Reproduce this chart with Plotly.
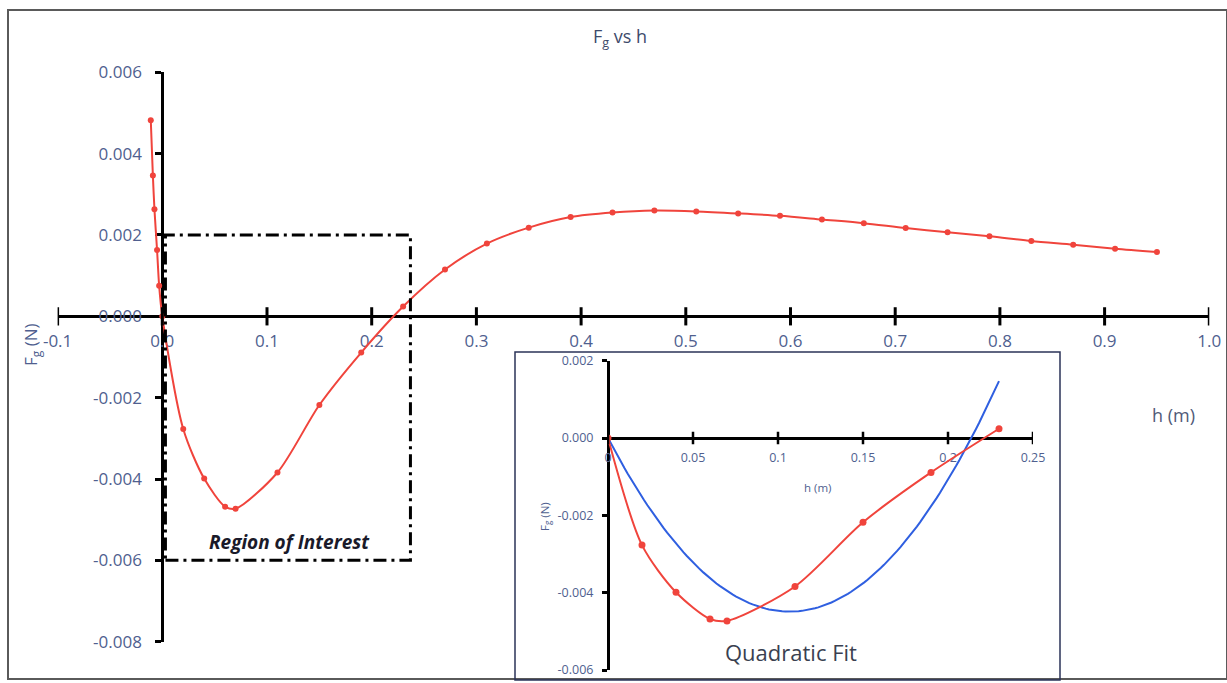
import numpy as np
import plotly.graph_objects as go

# Measured gravitational force F_g (N) against separation h (m)
h_vals = [-0.011, -0.009, -0.0075, -0.005, -0.003, 0.0,
          0.02, 0.04, 0.06, 0.07, 0.11, 0.15, 0.19, 0.23,
          0.27, 0.31, 0.35, 0.39, 0.43, 0.47, 0.51, 0.55, 0.59,
          0.63, 0.67, 0.71, 0.75, 0.79, 0.83, 0.87, 0.91, 0.95]
fg_vals = [0.00482, 0.00346, 0.00263, 0.00163, 0.00075, 0.0,
           -0.00277, -0.00399, -0.00468, -0.00473, -0.00384, -0.00218, -0.00089, 0.00024,
           0.00115, 0.00179, 0.00218, 0.00244, 0.00255, 0.00260, 0.00258, 0.00253, 0.00247,
           0.00238, 0.00229, 0.00217, 0.00207, 0.00197, 0.00185, 0.00176, 0.00166, 0.00158]

# Region of interest (zoomed in the inset)
roi_h = [0.0, 0.02, 0.04, 0.06, 0.07, 0.11, 0.15, 0.19, 0.23]
roi_fg = [0.0, -0.00277, -0.00399, -0.00468, -0.00473, -0.00384, -0.00218, -0.00089, 0.00024]

# Tick labels
main_xticks = [-0.1, 0.0, 0.1, 0.2, 0.3, 0.4, 0.5, 0.6, 0.7, 0.8, 0.9, 1.0]
main_yticks = [-0.008, -0.006, -0.004, -0.002, 0.0, 0.002, 0.004, 0.006]
inset_xticks = [0.0, 0.05, 0.1, 0.15, 0.2, 0.25]
inset_xlabels = ["0", "0.05", "0.1", "0.15", "0.2", "0.25"]
inset_yticks = [-0.006, -0.004, -0.002, 0.0, 0.002]

# Quadratic fit through the origin: F = a*h^2 + b*h
h_arr = np.array(roi_h)
A = np.column_stack([h_arr ** 2, h_arr])
(a_fit, b_fit), *_ = np.linalg.lstsq(A, np.array(roi_fg), rcond=None)
h_fit = np.linspace(0.0, max(roi_h), 120)
fg_fit = a_fit * h_fit ** 2 + b_fit * h_fit

RED = "#f0443c"
BLUE = "#2f5fe0"
LABEL = "#505f8f"
FONT = "Open Sans"

W, H = 1227, 683


def px_x(p):
    return p / W


def px_y(p):
    return (H - p) / H


fig = go.Figure()

# Main curve
fig.add_trace(go.Scatter(
    x=h_vals, y=fg_vals, mode="lines+markers",
    line=dict(color=RED, width=2, shape="spline", smoothing=0.8),
    marker=dict(color=RED, size=6),
    xaxis="x", yaxis="y", hoverinfo="skip"))

# Cross ticks on the main horizontal axis
fig.add_trace(go.Scatter(
    x=main_xticks, y=[0.0] * len(main_xticks), mode="markers",
    marker=dict(symbol="line-ns", size=13, line=dict(color="black", width=3)),
    xaxis="x", yaxis="y", hoverinfo="skip"))

# Inset: data and quadratic fit
fig.add_trace(go.Scatter(
    x=h_fit, y=fg_fit, mode="lines",
    line=dict(color=BLUE, width=2),
    xaxis="x2", yaxis="y2", hoverinfo="skip"))
fig.add_trace(go.Scatter(
    x=roi_h, y=roi_fg, mode="lines+markers",
    line=dict(color=RED, width=2, shape="spline", smoothing=0.8),
    marker=dict(color=RED, size=7),
    xaxis="x2", yaxis="y2", hoverinfo="skip"))
fig.add_trace(go.Scatter(
    x=inset_xticks, y=[0.0] * len(inset_xticks), mode="markers",
    marker=dict(symbol="line-ns", size=9, line=dict(color="black", width=2.5)),
    xaxis="x2", yaxis="y2", hoverinfo="skip"))

# Axis geometry (pixel positions converted to paper fractions)
mx0, mx1 = px_x(57.6), px_x(1209.3)
my_top, my_bot = px_y(72.3), px_y(641.7)
main_x_line = px_y(316.3)
main_y_line = px_x(162.3)

ix0, ix1 = px_x(608), px_x(1033)
iy_top, iy_bot = px_y(360.7), px_y(670)
inset_x_line = px_y(437.7)
inset_y_line = px_x(608)

common = dict(showline=True, linecolor="black", linewidth=3, showgrid=False,
              zeroline=False, automargin=False, layer="below traces")

fig.update_layout(
    template="none",
    width=W, height=H, autosize=False,
    margin=dict(l=0, r=0, t=0, b=0, pad=0),
    paper_bgcolor="white", plot_bgcolor="rgba(0,0,0,0)",
    showlegend=False,
    font=dict(family=FONT, color=LABEL),
    xaxis=dict(
        domain=[mx0, mx1], range=[-0.1, 1.0], anchor="free", position=main_x_line,
        ticks="", tickvals=main_xticks, ticktext=[f"{v:.1f}" for v in main_xticks],
        tickfont=dict(size=17, color=LABEL, family=FONT), ticklabelstandoff=8, **common),
    yaxis=dict(
        domain=[my_bot, my_top], range=[-0.008, 0.006], anchor="free", position=main_y_line,
        ticks="outside", ticklen=6, tickwidth=2.5, tickcolor="black",
        tickvals=main_yticks, ticktext=[f"{v:.3f}" for v in main_yticks],
        tickfont=dict(size=17, color=LABEL, family=FONT), ticklabelstandoff=10, **common),
    xaxis2=dict(
        domain=[ix0, ix1], range=[0, 0.25], anchor="free", position=inset_x_line,
        ticks="", tickvals=inset_xticks, ticktext=inset_xlabels,
        tickfont=dict(size=12.5, color=LABEL, family=FONT), ticklabelstandoff=7, **common),
    yaxis2=dict(
        domain=[iy_bot, iy_top], range=[-0.006, 0.002], anchor="free", position=inset_y_line,
        ticks="outside", ticklen=5, tickwidth=2.5, tickcolor="black",
        tickvals=inset_yticks, ticktext=[f"{v:.3f}" for v in inset_yticks],
        tickfont=dict(size=12.5, color=LABEL, family=FONT), ticklabelstandoff=6, **common),
)

shapes = [
    # outer frame
    dict(type="rect", xref="paper", yref="paper",
         x0=px_x(8), x1=1.0, y0=px_y(679), y1=px_y(10),
         line=dict(color="#5a5a5a", width=2)),
    # inset frame
    dict(type="rect", xref="paper", yref="paper",
         x0=px_x(515), x1=px_x(1060), y0=px_y(680), y1=px_y(352),
         line=dict(color="#2b3358", width=1.5)),
    # region of interest box
    dict(type="rect", xref="x", yref="y",
         x0=0.003, x1=0.237, y0=-0.006, y1=0.002,
         line=dict(color="black", width=3, dash="13px,5px,3px,5px")),
]
fig.update_layout(shapes=shapes)


def label(text, x, y, size, color=LABEL, angle=0):
    return dict(text=text, x=px_x(x), y=px_y(y), xref="paper", yref="paper",
                xanchor="center", yanchor="middle", showarrow=False,
                textangle=angle, font=dict(size=size, color=color, family=FONT))


annotations = [
    label("F<sub>g</sub> vs h", 620, 38, 18, "#3d4a6b"),
    label("F<sub>g</sub> (N)", 32, 345, 17, LABEL, -90),
    label("h (m)", 1173, 415, 18, "#505a78"),
    label("<b><i>Region of Interest</i></b>", 289, 542, 19, "#1a1a2a"),
    label("h (m)", 817, 487, 11.5),
    label("F<sub>g</sub> (N)", 545, 517, 11.5, LABEL, -90),
    label("Quadratic Fit", 791, 652, 22, "#3a3f50"),
]
fig.update_layout(annotations=annotations)

fig.write_html(
    "out.html",
    config={"responsive": False, "displayModeBar": False},
    post_script="document.body.style.margin='0';document.body.style.overflow='hidden';",
)
